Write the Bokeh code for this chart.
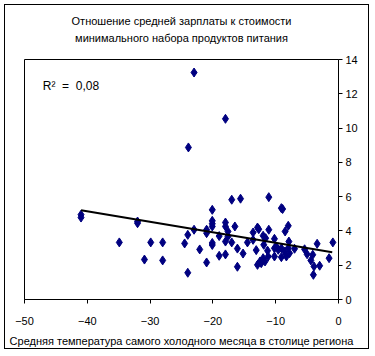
from bokeh.plotting import figure
from bokeh.models import Range1d, Label, FixedTicker, Title
from bokeh.embed import file_html
from bokeh.resources import INLINE

# ---- data ----
temperature = [
    -41.0, -41.0, -34.9, -32.0, -32.0, -30.9, -29.9, -28.0, -28.0, -24.5,
    -24.0, -24.0, -23.9, -23.0, -23.0, -22.1, -21.0, -21.0, -21.0, -20.1,
    -20.1, -20.1, -20.1, -20.1, -20.1, -19.0, -19.0, -18.0, -18.0, -18.0,
    -18.0, -18.0, -17.6, -17.6, -17.0, -17.0, -16.5, -16.1, -16.1, -15.6,
    -15.2, -14.5, -13.6, -13.6, -13.1, -12.9, -12.7, -12.9, -12.5, -12.3,
    -12.0, -12.0, -11.9, -11.7, -11.6, -11.3, -11.2, -11.1, -11.1, -10.2,
    -10.2, -10.2, -9.9, -9.6, -9.1, -8.9, -9.1, -9.1, -8.5, -8.3,
    -8.0, -8.0, -7.9, -7.8, -8.6, -7.0, -5.4, -5.0, -4.4, -4.1,
    -3.9, -4.0, -3.4, -3.0, -1.5, -0.9,
]
ratio = [
    4.95, 4.78, 3.33, 4.55, 4.45, 2.33, 3.33, 3.33, 2.28, 3.27,
    3.77, 1.56, 8.87, 13.24, 4.07, 2.92, 4.07, 3.87, 2.16, 5.23,
    4.59, 4.42, 4.26, 3.30, 3.18, 3.70, 2.55, 10.54, 4.49, 4.26,
    3.38, 2.63, 3.97, 3.68, 5.82, 3.33, 4.26, 2.97, 1.91, 5.88,
    2.68, 3.33, 3.91, 3.48, 2.88, 4.20, 4.10, 2.02, 2.22, 2.12,
    2.41, 3.72, 3.19, 2.22, 3.58, 2.85, 2.51, 5.97, 4.07, 3.54,
    2.99, 2.51, 3.09, 2.90, 5.33, 5.28, 2.99, 2.47, 3.97, 2.51,
    4.30, 3.00, 3.38, 2.70, 2.80, 2.96, 2.93, 2.64, 2.28, 2.61,
    1.93, 1.44, 3.25, 1.97, 2.41, 3.33,
]
trend_x = [-41.0, -1.0]
trend_y = [5.20, 2.75]
x_ticks = [-50, -40, -30, -20, -10, 0]
y_ticks = [0, 2, 4, 6, 8, 10, 12, 14]
title_line1 = "Отношение средней зарплаты к стоимости"
title_line2 = "минимального набора продуктов питания"
x_title = "Средняя температура самого холодного месяца в столице региона"
r2_text = "R²\u00a0\u00a0=\u00a0\u00a00,08"

FONT = "Liberation Sans"
FS = "11px"

p = figure(
    width=365, height=345,
    x_range=Range1d(-50, 0), y_range=Range1d(0, 14),
    output_backend="svg", toolbar_location=None,
    y_axis_location="right",
    min_border_left=19, min_border_top=54,
    min_border_right=32, min_border_bottom=51,
)
p.styles = {"border": "1px solid black", "margin": "4px"}
p.background_fill_color = "white"
p.border_fill_color = "white"
p.outline_line_color = "black"
p.outline_line_width = 1
p.xgrid.visible = False
p.ygrid.visible = False

# titles (line 2 is added first so it sits nearest the plot)
p.add_layout(Title(text=title_line2, align="center", text_font=FONT,
                   text_font_size=FS, text_font_style="normal",
                   text_color="black", standoff=32), "above")
p.add_layout(Title(text=title_line1, align="center", text_font=FONT,
                   text_font_size=FS, text_font_style="normal",
                   text_color="black", standoff=-26), "above")

# axes
p.xaxis.ticker = FixedTicker(ticks=x_ticks)
p.yaxis.ticker = FixedTicker(ticks=y_ticks)
for ax in (p.xaxis[0], p.yaxis[0]):
    ax.axis_line_color = "black"
    ax.major_tick_line_color = "black"
    ax.major_tick_in = 0
    ax.major_tick_out = 4
    ax.minor_tick_line_color = None
    ax.major_label_text_font = FONT
    ax.major_label_text_font_size = FS
    ax.major_label_text_color = "black"
p.xaxis.major_label_standoff = 13
p.yaxis.major_label_standoff = 3
p.xaxis.axis_label = x_title
p.xaxis.axis_label_text_font = FONT
p.xaxis.axis_label_text_font_size = FS
p.xaxis.axis_label_text_font_style = "normal"
p.xaxis.axis_label_text_color = "black"
p.xaxis.axis_label_standoff = 7

# data
p.scatter(temperature, ratio, marker="diamond", size=9,
          fill_color="#000080", line_color="#000080")
p.line(trend_x, trend_y, line_color="black", line_width=2)

p.add_layout(Label(x=-47.1, y=12.43, text=r2_text, text_align="left",
                   text_baseline="middle", text_font=FONT, text_font_size="12px",
                   text_color="black"))

open("out.html", "w").write(file_html(p, INLINE))
